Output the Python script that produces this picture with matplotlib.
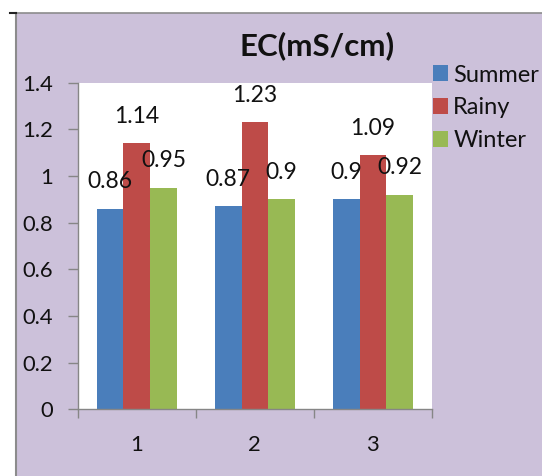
import matplotlib
matplotlib.use("Agg")
import matplotlib.pyplot as plt
from matplotlib.patches import Rectangle
from matplotlib.lines import Line2D
import numpy as np

categories = ["1", "2", "3"]
series_names = ["Summer", "Rainy", "Winter"]
summer = [0.86, 0.87, 0.90]
rainy = [1.14, 1.23, 1.09]
winter = [0.95, 0.90, 0.92]
label_text = {
    "Summer": ["0.86", "0.87", "0.9"],
    "Rainy": ["1.14", "1.23", "1.09"],
    "Winter": ["0.95", "0.9", "0.92"],
}
yticks = [0, 0.2, 0.4, 0.6, 0.8, 1, 1.2, 1.4]
ytick_labels = ["0", "0.2", "0.4", "0.6", "0.8", "1", "1.2", "1.4"]
title = "EC(mS/cm)"

colors = ["#4A7EBB", "#BE4B48", "#98B954"]
bg = "#CCC1DA"

plt.rcParams["font.family"] = ["Lato", "DejaVu Sans"]

W, H = 542, 476
fig = plt.figure(figsize=(W / 100, H / 100), dpi=100)
fig.patch.set_facecolor("white")

# lavender chart area with border
fig.patches.append(Rectangle((16 / W, 0), 1 - 16 / W, 1 - 12.7 / H, transform=fig.transFigure,
                             facecolor=bg, edgecolor="none", zorder=-10))
fig.lines.append(Line2D([16 / W, 16 / W], [0, 1 - 12.7 / H], transform=fig.transFigure,
                        color="#8C8C8C", lw=1.5, zorder=-5))
fig.lines.append(Line2D([16 / W, 1], [1 - 12.7 / H, 1 - 12.7 / H], transform=fig.transFigure,
                        color="#8C8C8C", lw=1.2, zorder=-5))
fig.lines.append(Line2D([10 / W, 16 / W], [1 - 12.7 / H, 1 - 12.7 / H], transform=fig.transFigure,
                        color="#222222", lw=1.5, zorder=-5))

ax_l, ax_r, ax_t, ax_b = 77.7, 432, 82.7, 409.3
ax = fig.add_axes([ax_l / W, (H - ax_b) / H, (ax_r - ax_l) / W, (ax_b - ax_t) / H])
ax.set_facecolor("white")

x = np.arange(1, len(categories) + 1)
bw = 0.226
all_vals = [summer, rainy, winter]
for i, (name, vals, c) in enumerate(zip(series_names, all_vals, colors)):
    pos = x + (i - 1) * bw
    ax.bar(pos, vals, width=bw, color=c, label=name, zorder=2)
    for px, v, t in zip(pos, vals, label_text[name]):
        ax.annotate(t, (px, v), xytext=(0, 27), textcoords="offset pixels",
                    ha="center", va="center", fontsize=16.5, color="#111111", zorder=5,
                    annotation_clip=False)

ax.set_xlim(0.5, 3.5)
ax.set_ylim(0, 1.4)
ax.set_yticks(yticks)
ax.set_yticklabels(ytick_labels)
ax.set_xticks(x)
ax.set_xticklabels(categories)
ax.set_xticks([0.5, 1.5, 2.5, 3.5], minor=True)
ax.tick_params(axis="x", which="major", length=0, pad=18.5, labelsize=15.8, colors="#111111")
ax.tick_params(axis="x", which="minor", length=6.5, width=1, color="#868686", direction="out")
ax.tick_params(axis="y", which="major", length=7, width=1, color="#868686", pad=10.5,
               labelsize=15.8, labelcolor="#111111", direction="out")
for s in ["top", "right"]:
    ax.spines[s].set_visible(False)
for s in ["left", "bottom"]:
    ax.spines[s].set_color("#868686")
    ax.spines[s].set_linewidth(1)

fig.text(317.5 / W, 1 - 46 / H, title, ha="center", va="center", fontsize=22.5,
         fontweight="bold", color="#111111")

handles, labels = ax.get_legend_handles_labels()
leg = fig.legend(handles, labels, loc="upper left", bbox_to_anchor=(432.7 / W, 1 - 64.5 / H),
                 frameon=False, fontsize=17, handlelength=0.66, handleheight=0.66,
                 handletextpad=0.21, labelspacing=0.5, borderpad=0, borderaxespad=0)
for t in leg.get_texts():
    t.set_color("#111111")

fig.savefig("out.png", dpi=100, facecolor=fig.get_facecolor())
